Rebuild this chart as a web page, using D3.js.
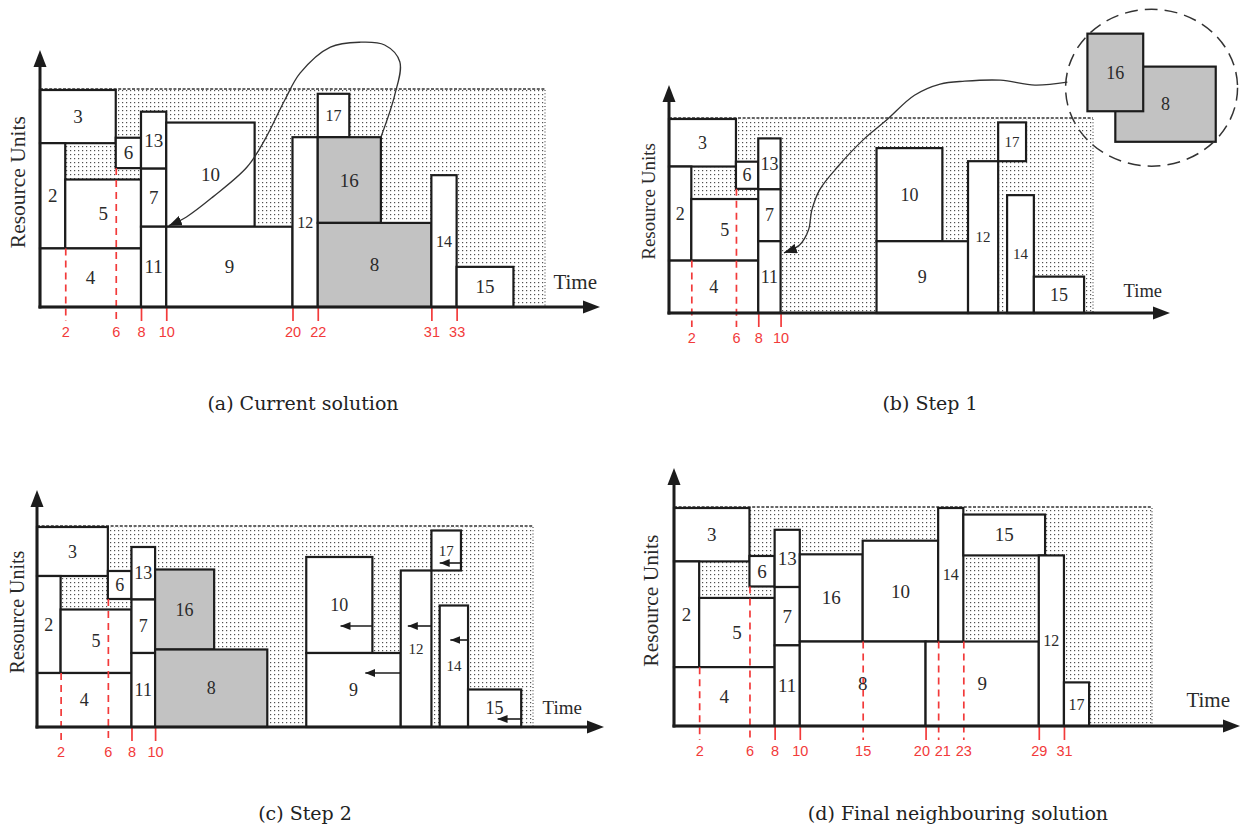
<!DOCTYPE html>
<html>
<head>
<meta charset="utf-8">
<script src="https://cdn.jsdelivr.net/npm/d3@7"></script>
<style>
  html, body { margin: 0; padding: 0; background: #fff; }
  svg { display: block; }
</style>
</head>
<body>
<svg id="fig" width="1245" height="827"></svg>
<script>
// ---------------------------------------------------------------
// Schedule data: every activity is [id, start, finish, resLow, resHigh]
// (time units along the horizon, resource units up to the capacity)
// ---------------------------------------------------------------
const captions = ["(a) Current solution", "(b) Step 1", "(c) Step 2", "(d) Final neighbouring solution"];
const capacity = 40;
const horizon = [40, 38, 42, 38];

// activities that stay in place in every step
const fixedBlocks = [
  [3, 0, 6, 30.2, 40],
  [2, 0, 2, 10.8, 30.2],
  [5, 2, 8, 10.8, 23.5],
  [4, 0, 8, 0, 10.8],
  [6, 6, 8, 25.6, 31.2],
  [13, 8, 10, 25.5, 36],
  [7, 8, 10, 14.8, 25.5],
  [11, 8, 10, 0, 14.8]
];

const blocksA = [
  [10, 10, 17, 14.8, 34],
  [9, 10, 20, 0, 14.8],
  [12, 20, 22, 0, 31.3],
  [17, 22, 24.5, 31.3, 39.3],
  [16, 22, 27, 15.5, 31.3],
  [8, 22, 31, 0, 15.5],
  [14, 31, 33, 0, 24.3],
  [15, 33, 37.5, 0, 7.4]
];

const blocksB = [
  [10, 18.6, 24.5, 14.8, 34],
  [9, 18.6, 26.8, 0, 14.8],
  [12, 26.8, 29.5, 0, 31.3],
  [17, 29.5, 32, 31.3, 39.3],
  [14, 30.3, 32.7, 0, 24.3],
  [15, 32.7, 37.2, 0, 7.5]
];

// activities 8 and 16 lifted out of the schedule in step 1
const liftedB = [
  [8, 40, 49, 35.3, 50.8],
  [16, 37.5, 42.5, 41.6, 57.6]
];

const blocksC = [
  [16, 10, 15, 15.5, 31.5],
  [8, 10, 19.5, 0, 15.5],
  [10, 22.8, 28.4, 14.8, 34],
  [9, 22.8, 30.8, 0, 14.8],
  [12, 30.8, 33.4, 0, 31.3],
  [17, 33.4, 35.9, 31.3, 39.3],
  [14, 34.1, 36.5, 0, 24.3],
  [15, 36.5, 41, 0, 7.5]
];

// left shifts in step 2: [activity, resource level, shift length]
const shiftsC = [
  [10, 20.2, 2.7],
  [9, 10.8, 3],
  [12, 20.2, 2],
  [17, 32.8, 1.8],
  [14, 17.4, 1.5],
  [15, 1.6, 2]
];

const blocksD = [
  [16, 10, 15, 15.5, 31.5],
  [10, 15, 21, 15.5, 34],
  [8, 10, 20, 0, 15.5],
  [9, 20, 29, 0, 15.5],
  [14, 21, 23, 15.5, 40],
  [15, 23, 29.5, 31.3, 38.8],
  [12, 29, 31, 0, 31.3],
  [17, 31, 33, 0, 8]
];

// highlighted (moved) activities
const movedA = [16, 8];
const movedC = [16, 8];

// time ticks and the resource level from which a tick is extended as a guide
const ticksA = [2, 6, 8, 10, 20, 22, 31, 33];
const ticksB = [2, 6, 8, 10];
const ticksC = [2, 6, 8, 10];
const ticksD = [2, 6, 8, 10, 15, 20, 21, 23, 29, 31];
const guidesA = [[2, 10.8], [6, 25.6]];
const guidesB = [[2, 10.8], [6, 25.6]];
const guidesC = [[2, 10.8], [6, 25.6]];
const guidesD = [[2, 10.8], [6, 25.6], [15, 15.5], [21, 15.5], [23, 15.5]];

// move annotations: [time, resource] waypoints
const moveCurveA = [[27, 31.3], [28.1, 39.1], [28.5, 45.2], [27.3, 48.3], [25.3, 48.8], [23, 47.9],
  [20.6, 43.1], [19.4, 38.2], [17.8, 30.8], [16.4, 25.8], [13.7, 20.3], [11.6, 16.6], [10.2, 15]];
const moveCurveB = [[35.7, 47.6], [32.8, 47], [29.7, 48], [26.5, 47.8], [24.3, 47.2], [22, 44.9],
  [19.5, 39.8], [17.4, 35.7], [15.1, 30.1], [13.5, 25.4], [12.8, 21.2], [12.5, 17.1], [11.7, 14], [10.3, 12.4]];

// ---------------------------------------------------------------
// Layout and styles
// ---------------------------------------------------------------
const RED = "#f23a3a";
const INK = "#1c1c1c";
const GREY = "#c2c2c2";
const SERIF = "'Liberation Serif','Times New Roman',serif";
const CAPTION_FONT = "'DejaVu Serif',serif";
const SANS = "'Liberation Sans',Arial,sans-serif";
const SMALL_LABELS = new Set([12, 14, 17]);
const TICK_LABEL_GAP = 21;

const frames = [
  { x0: 40, x1: 545, yB: 307, yT: 90, axTip: 600, ayTip: 50, timeEnd: 597, timeY: 289, timeFs: 21, ruFs: 21.5, ruX: 17, capX: 303, capY: 410, fs: 19, fsSmall: 16 },
  { x0: 669, x1: 1093, yB: 313, yT: 119, axTip: 1170, ayTip: 85, timeEnd: 1162, timeY: 297, timeFs: 18.5, ruFs: 19, ruX: 648, capX: 930, capY: 410, fs: 18, fsSmall: 15 },
  { x0: 37, x1: 533, yB: 727, yT: 527, axTip: 604, ayTip: 490, timeEnd: 582, timeY: 714, timeFs: 19, ruFs: 20, ruX: 17, capX: 305, capY: 820, fs: 18, fsSmall: 15 },
  { x0: 674, x1: 1152, yB: 726, yT: 508, axTip: 1240, ayTip: 468, timeEnd: 1230, timeY: 707, timeFs: 21, ruFs: 21.5, ruX: 650, capX: 958, capY: 820, fs: 19, fsSmall: 16 }
];

const panels = [
  { blocks: fixedBlocks.concat(blocksA), moved: movedA, ticks: ticksA, guides: guidesA, curve: moveCurveA },
  { blocks: fixedBlocks.concat(blocksB), moved: [], ticks: ticksB, guides: guidesB, curve: moveCurveB, lifted: liftedB },
  { blocks: fixedBlocks.concat(blocksC), moved: movedC, ticks: ticksC, guides: guidesC, shifts: shiftsC },
  { blocks: fixedBlocks.concat(blocksD), moved: [], ticks: ticksD, guides: guidesD }
];

const svg = d3.select("#fig");
const defs = svg.append("defs");

// stipple for idle resource capacity
const pat = defs.append("pattern").attr("id", "dots")
  .attr("patternUnits", "userSpaceOnUse").attr("width", 4).attr("height", 4);
pat.append("rect").attr("x", 2).attr("y", 2).attr("width", 1.2).attr("height", 1.2).attr("fill", "#505050");

function addHead(id, len, wid) {
  defs.append("marker").attr("id", id)
    .attr("viewBox", `0 0 ${len} ${wid}`)
    .attr("refX", len).attr("refY", wid / 2)
    .attr("markerWidth", len).attr("markerHeight", wid)
    .attr("markerUnits", "userSpaceOnUse")
    .attr("orient", "auto")
    .append("path").attr("d", `M0,0L${len},${wid / 2}L0,${wid}Z`).attr("fill", INK);
}
addHead("curveHead", 13, 10);
addHead("shiftHead", 10, 8);

function drawBlocks(g, data, x, y, shadedSet) {
  g.append("g").selectAll("rect").data(data).join("rect")
    .attr("x", d => x(d[1]))
    .attr("y", d => y(d[4]))
    .attr("width", d => x(d[2]) - x(d[1]))
    .attr("height", d => y(d[3]) - y(d[4]))
    .attr("fill", d => shadedSet.has(d[0]) ? GREY : "#fff")
    .attr("stroke", INK)
    .attr("stroke-width", 2.2);
}

function drawLabels(g, data, x, y, f) {
  g.append("g").selectAll("text").data(data).join("text")
    .attr("x", d => (x(d[1]) + x(d[2])) / 2)
    .attr("y", d => (y(d[3]) + y(d[4])) / 2)
    .attr("dy", "0.34em")
    .attr("text-anchor", "middle")
    .attr("font-family", SERIF)
    .attr("font-size", d => SMALL_LABELS.has(d[0]) ? f.fsSmall : f.fs)
    .attr("fill", "#2a2a2a")
    .text(d => d[0]);
}

panels.forEach((p, i) => {
  const f = frames[i];
  const x = d3.scaleLinear().domain([0, horizon[i]]).range([f.x0, f.x1]);
  const y = d3.scaleLinear().domain([0, capacity]).range([f.yB, f.yT]);
  const g = svg.append("g");

  // idle capacity over the horizon
  g.append("rect")
    .attr("x", x(0)).attr("y", y(capacity))
    .attr("width", x(horizon[i]) - x(0))
    .attr("height", y(0) - y(capacity))
    .attr("fill", "url(#dots)");
  g.append("line")
    .attr("x1", x(0)).attr("x2", x(horizon[i]))
    .attr("y1", y(capacity) - 1).attr("y2", y(capacity) - 1)
    .attr("stroke", "#333").attr("stroke-width", 1.6).attr("stroke-dasharray", "3,1.6");
  g.append("line")
    .attr("x1", x(horizon[i])).attr("x2", x(horizon[i]))
    .attr("y1", y(capacity)).attr("y2", y(0))
    .attr("stroke", "#444").attr("stroke-width", 1.1).attr("stroke-dasharray", "1,2.2");

  // activities
  drawBlocks(g, p.blocks, x, y, new Set(p.moved));

  // time ticks, some extended upward as dashed guides
  const guideLevel = new Map(p.guides);
  const axis = d3.axisBottom(x).tickValues(p.ticks).tickSize(14).tickPadding(6).tickFormat(d3.format("d"));
  const ga = g.append("g").attr("transform", `translate(0,${f.yB})`).call(axis);
  ga.select(".domain").remove();
  ga.attr("font-family", SANS).attr("font-size", 14.5);
  ga.selectAll(".tick line").attr("stroke", RED).attr("stroke-width", 1.7);
  ga.selectAll(".tick").filter(d => guideLevel.has(d)).select("line")
    .attr("y1", d => y(guideLevel.get(d)) - f.yB)
    .attr("stroke-dasharray", "7,5");
  // push apart labels of neighbouring ticks that sit too close together
  const tx = p.ticks.map(t => x(t));
  ga.selectAll(".tick text")
    .attr("fill", RED)
    .attr("dx", (d, k) => {
      let s = 0;
      if (k > 0 && tx[k] - tx[k - 1] < TICK_LABEL_GAP) s += (TICK_LABEL_GAP - (tx[k] - tx[k - 1])) / 2;
      if (k < tx.length - 1 && tx[k + 1] - tx[k] < TICK_LABEL_GAP) s -= (TICK_LABEL_GAP - (tx[k + 1] - tx[k])) / 2;
      return s;
    });

  drawLabels(g, p.blocks, x, y, f);

  // axes with arrow heads
  g.append("line").attr("x1", f.x0 - 1.5).attr("x2", f.axTip - 12)
    .attr("y1", f.yB).attr("y2", f.yB)
    .attr("stroke", INK).attr("stroke-width", 3);
  g.append("path")
    .attr("d", `M${f.axTip},${f.yB}L${f.axTip - 17},${f.yB - 6.5}L${f.axTip - 17},${f.yB + 6.5}Z`)
    .attr("fill", INK);
  g.append("line").attr("x1", f.x0).attr("x2", f.x0)
    .attr("y1", f.yB + 1.5).attr("y2", f.ayTip + 12)
    .attr("stroke", INK).attr("stroke-width", 3);
  g.append("path")
    .attr("d", `M${f.x0},${f.ayTip}L${f.x0 - 6.5},${f.ayTip + 17}L${f.x0 + 6.5},${f.ayTip + 17}Z`)
    .attr("fill", INK);

  // axis titles
  g.append("text")
    .attr("transform", `translate(${f.ruX},${y(23)}) rotate(-90)`)
    .attr("dy", "0.35em")
    .attr("text-anchor", "middle")
    .attr("font-family", SERIF).attr("font-size", f.ruFs).attr("fill", "#2a2a2a")
    .text("Resource Units");
  g.append("text")
    .attr("x", f.timeEnd).attr("y", f.timeY)
    .attr("text-anchor", "end")
    .attr("font-family", SERIF).attr("font-size", f.timeFs).attr("fill", "#2a2a2a")
    .text("Time");

  // lifted activities inside a dashed ellipse
  if (p.lifted) {
    drawBlocks(g, p.lifted, x, y, new Set(p.lifted.map(d => d[0])));
    drawLabels(g, p.lifted, x, y, f);
    const left = d3.min(p.lifted, d => x(d[1])), right = d3.max(p.lifted, d => x(d[2]));
    const top = d3.min(p.lifted, d => y(d[4])), bottom = d3.max(p.lifted, d => y(d[3]));
    g.append("ellipse")
      .attr("cx", (left + right) / 2).attr("cy", (top + bottom) / 2)
      .attr("rx", (right - left) / 2 * 1.34).attr("ry", (bottom - top) / 2 * 1.45)
      .attr("fill", "none").attr("stroke", "#333").attr("stroke-width", 1.5)
      .attr("stroke-dasharray", "13,7");
  }

  // move annotation curve
  if (p.curve) {
    const line = d3.line().x(d => x(d[0])).y(d => y(d[1])).curve(d3.curveCatmullRom.alpha(0.5));
    g.append("path").attr("d", line(p.curve))
      .attr("fill", "none").attr("stroke", "#333").attr("stroke-width", 1.3)
      .attr("marker-end", "url(#curveHead)");
  }

  // left-shift arrows
  if (p.shifts) {
    const finish = new Map(p.blocks.map(d => [d[0], d[2]]));
    g.append("g").selectAll("line").data(p.shifts).join("line")
      .attr("x1", d => x(finish.get(d[0])))
      .attr("x2", d => x(finish.get(d[0]) - d[2]))
      .attr("y1", d => y(d[1])).attr("y2", d => y(d[1]))
      .attr("stroke", INK).attr("stroke-width", 1.6)
      .attr("marker-end", "url(#shiftHead)");
  }

  // caption
  svg.append("text")
    .attr("x", f.capX).attr("y", f.capY)
    .attr("text-anchor", "middle")
    .attr("font-family", CAPTION_FONT).attr("font-size", 19).attr("fill", "#222")
    .text(captions[i]);
});
</script>
</body>
</html>
